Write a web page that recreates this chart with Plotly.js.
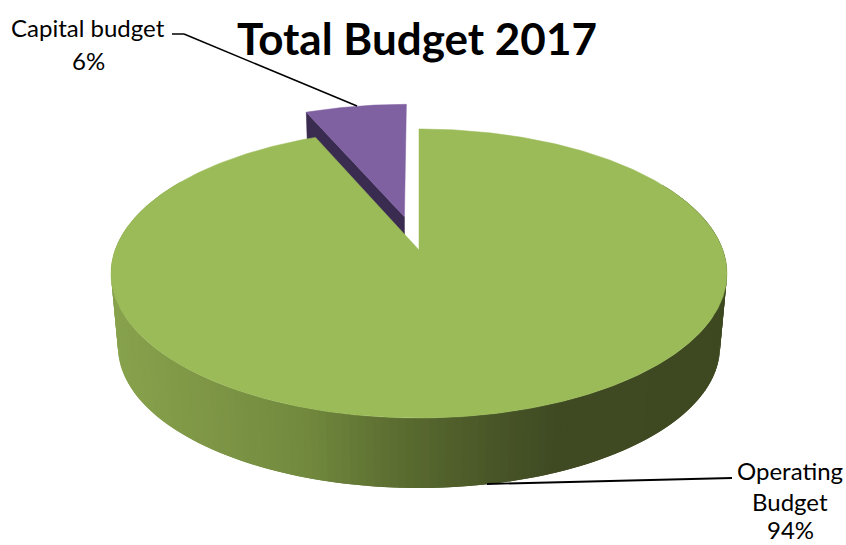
<!DOCTYPE html>
<html><head><meta charset="utf-8">
<script src="https://cdn.plot.ly/plotly-3.0.1.min.js"></script>
<style>html,body{margin:0;padding:0;background:#fff}#c{width:846px;height:545px}</style>
</head><body><div id="c"></div>
<script>
const chartTitle = 'Total Budget 2017';
const categories = ['Operating Budget', 'Capital budget'];
const values = [93.6, 6.4];

const total = values.reduce((a, b) => a + b, 0);
const pct = values.map(v => Math.round(v / total * 100) + '%');

// Perspective projection of the pie plane onto the axes
const K = 0.1626;
const TOP = {x0: 419, y0: 250, ax: 303.9, b: 140.7};
const BOT = {x0: 419, y0: 323.8, ax: 297, b: 137.5};
function proj(p, X, Y) {
  const d = 1 + K * Y;
  return [p.x0 + p.ax * X / d, p.y0 - p.b * Y / d];
}
const rim = (p, th, ox = 0, oy = 0) => proj(p, ox + Math.sin(th), oy + Math.cos(th));
const TAU = Math.PI * 2;

function wedge(p, a0, a1, ox = 0, oy = 0) {
  const pts = [proj(p, ox, oy)];
  const n = Math.max(2, Math.ceil((a1 - a0) / 0.01));
  for (let i = 0; i <= n; i++) pts.push(rim(p, a0 + (a1 - a0) * i / n, ox, oy));
  pts.push(proj(p, ox, oy));
  return pts;
}
function poly(pts, color, w) {
  return {type: 'scatter', mode: 'lines', x: pts.map(q => q[0]), y: pts.map(q => q[1]),
    fill: 'toself', fillcolor: color, line: {color: color, width: w},
    hoverinfo: 'skip', showlegend: false};
}

const sideStops = [[110,[136,163,77]],[215,[125,149,69]],[300,[114,138,62]],[400,[90,107,48]],[480,[74,88,40]],[550,[63,74,35]],[730,[62,73,33]]];
function sideColor(x) {
  for (let i = 1; i < sideStops.length; i++) {
    if (x <= sideStops[i][0]) {
      const [x0, c0] = sideStops[i - 1], [x1, c1] = sideStops[i];
      const t = Math.max(0, (x - x0) / (x1 - x0));
      return 'rgb(' + c0.map((c, j) => Math.round(c + (c1[j] - c) * t)).join(',') + ')';
    }
  }
  return 'rgb(62,73,33)';
}

const greenEnd = TAU * values[0] / total;
const midPurple = (greenEnd + TAU) / 2;
const explode = 0.25;
const ox = explode * Math.sin(midPurple), oy = explode * Math.cos(midPurple);

const data = [];
// Exploded slice: cut face, then top
const a = proj(TOP, ox, oy), b = rim(TOP, greenEnd, ox, oy);
const c = rim(BOT, greenEnd, ox, oy), d = proj(BOT, ox, oy);
data.push(poly([a, b, c, d, a], '#3a2b50', 0.5));
data.push(poly(wedge(TOP, greenEnd, TAU, ox, oy), '#7f60a0', 0.5));
// Main slice: side bands, then top (drawn with overlap so no seams show)
const step = TAU / 280;
for (let th = TAU / 6; th < TAU * 5 / 6; th += step) {
  const t1 = rim(TOP, th), t2 = rim(TOP, th + step * 2);
  const b1 = rim(BOT, th), b2 = rim(BOT, th + step * 2);
  data.push(poly([t1, t2, b2, b1, t1], sideColor((b1[0] + b2[0]) / 2), 0));
}
data.push(poly(wedge(TOP, 0, greenEnd), '#9bbb59', 0.5));

const textFont = {family: 'Lato, "Open Sans", sans-serif', size: 24, color: '#000'};
const labelLines = [
  [categories[1], 88, 27], [pct[1], 88, 60],
  [categories[0].split(' ')[0], 790, 470], [categories[0].split(' ')[1], 790, 501], [pct[0], 790, 529]
];
const annotations = labelLines.map(([text, x, y]) => ({text, x, y, xref: 'x', yref: 'y',
  xanchor: 'center', yanchor: 'middle', showarrow: false, font: textFont, borderpad: 0}));

const leader = (path, w) => ({type: 'line', xref: 'x', yref: 'y', x0: path[0], y0: path[1], x1: path[2], y1: path[3],
  line: {color: '#000', width: w}});
const shapes = [leader([172, 34, 184, 34], 1.5), leader([184, 34, 357, 106], 1.5), leader([487, 484, 732, 478], 1.8)];

Plotly.newPlot('c', data, {
  width: 846, height: 545,
  margin: {l: 0, r: 0, t: 0, b: 0},
  paper_bgcolor: '#fff', plot_bgcolor: '#fff',
  showlegend: false,
  title: {text: '<b>' + chartTitle + '</b>', x: 417 / 846, xanchor: 'center', y: 1 - 40 / 545, yanchor: 'middle',
    font: {family: 'Lato, "Open Sans", sans-serif', size: 44, color: '#000'}},
  xaxis: {range: [0, 846], visible: false, fixedrange: true},
  yaxis: {range: [545, 0], visible: false, fixedrange: true},
  annotations, shapes
}, {displayModeBar: false});
</script></body></html>
